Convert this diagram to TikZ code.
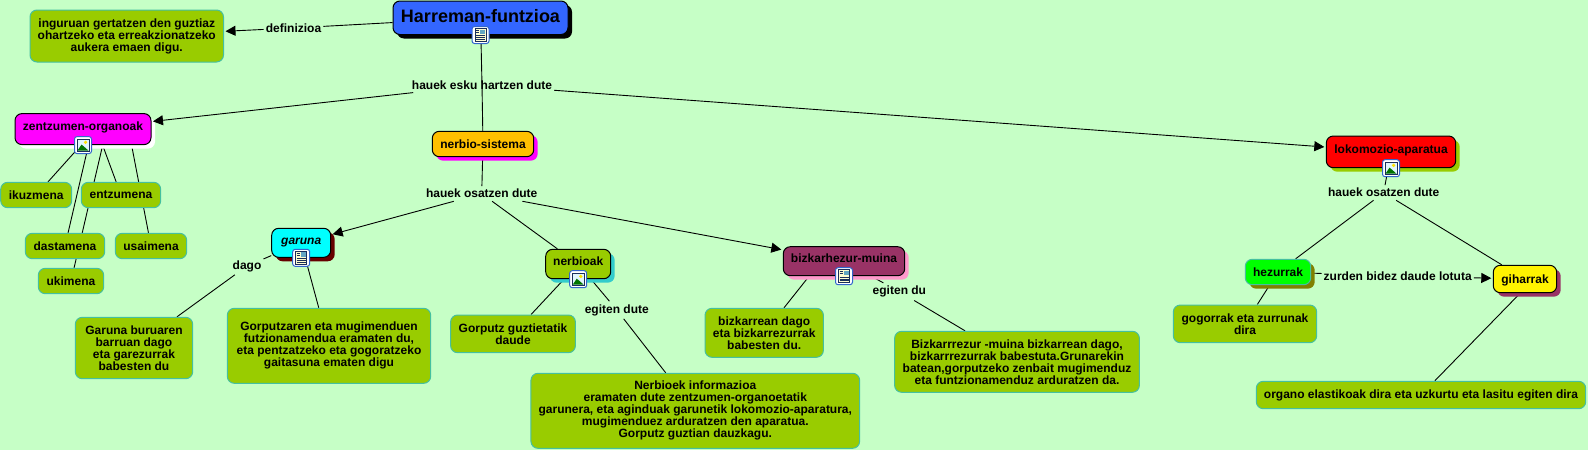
\documentclass[tikz,border=0pt]{standalone}
\usepackage{fontspec}
\setmainfont{Liberation Sans}
\usetikzlibrary{arrows.meta,backgrounds,shadows}
\definecolor{mapbg}{HTML}{C6FFC6}
\definecolor{leaffill}{HTML}{99CC00}
\definecolor{leafline}{HTML}{45C0A0}
\definecolor{rootblue}{HTML}{3366FF}
\definecolor{organpink}{HTML}{FF00FF}
\definecolor{sysorange}{HTML}{FFC000}
\definecolor{brainfill}{HTML}{00FFFF}
\definecolor{brainshade}{HTML}{660000}
\definecolor{nervshade}{HTML}{33CCCC}
\definecolor{cordfill}{HTML}{993366}
\definecolor{cordshade}{HTML}{FF99CC}
\definecolor{bonefill}{HTML}{00FF00}
\definecolor{boneshade}{HTML}{808000}
\definecolor{iconline}{HTML}{3366CC}
\definecolor{iconink}{HTML}{1A2E5A}
\tikzset{
  % ---- concepts --------------------------------------------------
  cpt/.style 2 args = {draw=black, line width=1pt, rounded corners=7pt,
                       inner sep=0pt, fill=#1, font=\fontsize{12}{12}\selectfont\bfseries,
                       text height=9pt, text depth=1pt,
                       general shadow={shadow xshift=4pt, shadow yshift=-4pt, fill=#2}},
  withicon/.style   = {text height=9pt, text depth=6pt},
  rootcpt/.style    = {cpt={rootblue}{black}, font=\fontsize{18}{18}\selectfont\bfseries,
                       text height=13pt, text depth=3.5pt},
  % ---- texts -----------------------------------------------------
  leaf/.style       = {draw=leafline, line width=1pt, rounded corners=7pt, fill=leaffill,
                       inner sep=0pt, align=center,
                       font=\fontsize{12}{12}\selectfont\bfseries},
  % ---- links -----------------------------------------------------
  lbl/.style        = {inner xsep=2pt, inner ysep=3pt,
                       font=\fontsize{12}{12}\selectfont\bfseries},
  link/.style       = {draw=black, line width=.9pt},
  arrlink/.style    = {link, shorten >=1.5pt, -{Triangle[length=10pt,width=10pt]}},
  % ---- resource icons --------------------------------------------
  iconframe/.pic    = {
    \draw[iconline, line width=1pt, fill=white, rounded corners=2.5pt] (-8.5,-8.5) rectangle (8.5,8.5);
  },
  photoicon/.pic    = {
    \pic {iconframe};
    \draw[iconink, line width=.9pt, fill=cyan!12!white] (-6,-6) rectangle (6,6);
    \fill[green!45!black] (-5.5,5.5) -- (-1.5,-.5) -- (1,1.5) -- (5.5,5.5) -- cycle;
    \fill[yellow!85!orange] (2.6,-2.8) circle (1.8);
  },
  docicon/.pic      = {
    \pic {iconframe};
    \draw[iconink, line width=.9pt, fill=yellow!18!white] (-5.5,-6.5) rectangle (5.5,6.5);
    \fill[cyan!50!gray] (-.2,-5.5) rectangle (4.5,-.8);
    \foreach \ly in {-4.5,-2.5} \draw[iconink, line width=.8pt] (-4.5,\ly) -- (-1.2,\ly);
    \foreach \ly in {0.8,2.8,4.6} \draw[iconink, line width=.8pt] (-4.5,\ly) -- (4.5,\ly);
  },
}
\begin{document}
\begin{tikzpicture}[x=1pt,y=-1pt]
  \useasboundingbox (0,0) rectangle (1588,450);
  % ---- concepts
  \node[rootcpt, minimum width=175, minimum height=33.5] (harreman) at (480.5,17.75) {Harreman-funtzioa};
  \node[cpt={organpink}{white}, withicon, minimum width=136, minimum height=31] (zentzumen) at (83,129.1) {zentzumen-organoak};
  \node[cpt={sysorange}{organpink}, minimum width=101.4, minimum height=25.4] (nerbiosis) at (483,144) {nerbio-sistema};
  \node[cpt={red}{leaffill}, withicon, minimum width=129.4, minimum height=31.7] (lokomozio) at (1391,151.85) {lokomozio-aparatua};
  \node[cpt={brainfill}{brainshade}, withicon, minimum width=59, minimum height=29, font=\fontsize{12}{12}\selectfont\bfseries\itshape] (garuna) at (301.2,242.8) {garuna};
  \node[cpt={leaffill}{nervshade}, withicon, minimum width=65, minimum height=29.4] (nerbioak) at (578.2,264) {nerbioak};
  \node[cpt={cordfill}{cordshade}, withicon, minimum width=121.4, minimum height=29] (bizkarhezur) at (844,261.2) {bizkarhezur-muina};
  \node[cpt={bonefill}{boneshade}, draw=leafline, minimum width=65.4, minimum height=25.4] (hezurrak) at (1278,272) {hezurrak};
  \node[cpt={yellow}{cordfill}, minimum width=63.4, minimum height=27.4] (giharrak) at (1525,279) {giharrak};
  % ---- leaves
  \node[leaf, minimum width=193.5, minimum height=52] (definBox) at (126.75,36) {inguruan gertatzen den guztiaz\\ohartzeko eta erreakzionatzeko\\aukera emaen digu.};
  \node[leaf, minimum width=71, minimum height=25.4] (ikuzmena) at (36.2,195) {ikuzmena};
  \node[leaf, minimum width=79.4, minimum height=25.4] (entzumena) at (121,195) {entzumena};
  \node[leaf, minimum width=79.4, minimum height=25.4] (dastamena) at (65,246) {dastamena};
  \node[leaf, minimum width=71.4, minimum height=25.4] (usaimena) at (151,246) {usaimena};
  \node[leaf, minimum width=65.4, minimum height=25.4] (ukimena) at (71,281) {ukimena};
  \node[leaf, minimum width=117.4, minimum height=61.4] (garunaBox) at (134,348) {Garuna buruaren\\barruan dago\\eta garezurrak\\babesten du};
  \node[leaf, minimum width=203.4, minimum height=75] (gorputzaren) at (329,345.8) {Gorputzaren eta mugimenduen\\futzionamendua eramaten du,\\eta pentzatzeko eta gogoratzeko\\gaitasuna ematen digu};
  \node[leaf, minimum width=124.8, minimum height=37.7] (gorputzBox) at (513,333.85) {Gorputz guztietatik\\daude};
  \node[leaf, minimum width=328.7, minimum height=75] (nerbioekBox) at (695.3,410.8) {Nerbioek informazioa\\eramaten dute zentzumen-organoetatik\\garunera, eta aginduak garunetik lokomozio-aparatura,\\mugimenduez arduratzen den aparatua.\\Gorputz guztian dauzkagu.};
  \node[leaf, minimum width=118.4, minimum height=49] (bizkarreanBox) at (764.2,332.8) {bizkarrean dago\\eta bizkarrezurrak\\babesten du.};
  \node[leaf, minimum width=244.8, minimum height=61] (bizkarrezurBox) at (1017,361.8) {Bizkarrrezur -muina bizkarrean dago,\\bizkarrrezurrak babestuta.Grunarekin\\batean,gorputzeko zenbait mugimenduz\\eta funtzionamenduz arduratzen da.};
  \node[leaf, minimum width=143.4, minimum height=37.7] (gogorrakBox) at (1245,323.85) {gogorrak eta zurrunak\\dira};
  \node[leaf, minimum width=329.4, minimum height=27.4] (organoBox) at (1421,395) {organo elastikoak dira eta uzkurtu eta lasitu egiten dira};
  % ---- link labels
  \node[lbl] (lblDefin) at (293.5,28) {definizioa};
  \node[lbl] (lblEsku) at (482,85) {hauek esku hartzen dute};
  \node[lbl] (lblOsatzen) at (481.7,193.7) {hauek osatzen dute};
  \node[lbl] (lblDago) at (247,266) {dago};
  \node[lbl] (lblEgitenN) at (616.8,310) {egiten dute};
  \node[lbl] (lblEgitenB) at (899.4,291.7) {egiten du};
  \node[lbl] (lblOsatzenL) at (1383.7,192.7) {hauek osatzen dute};
  \node[lbl] (lblZurden) at (1397.7,276) {zurden bidez daude lotuta};
  % ---- icons
  \pic at (harreman.south) {docicon};
  \pic at (zentzumen.south) {photoicon};
  \pic at (lokomozio.south) {photoicon};
  \pic at (garuna.south) {docicon};
  \pic at (nerbioak.south) {photoicon};
  \pic at (bizkarhezur.south) {docicon};
  % ---- plain links go under the boxes
  \begin{scope}[on background layer]
    \fill[mapbg] (0,0) rectangle (1588,450);
    \draw[link] (harreman) -- (lblDefin);
    \draw[link] (harreman) -- (lblEsku.center);
    \draw[link] (lblEsku.center) -- (nerbiosis);
    \draw[link] ([xshift=-2]zentzumen.south) -- (ikuzmena);
    \draw[link] ([xshift=5.5]zentzumen.south) -- (dastamena);
    \draw[link] ([xshift=19.7]zentzumen.south) -- (ukimena);
    \draw[link] ([xshift=13.7]zentzumen.center) -- (entzumena);
    \draw[link] ([xshift=45.5]zentzumen.center) -- (usaimena);
    \draw[link] (nerbiosis) -- (lblOsatzen);
    \draw[link] (lblOsatzen) -- (nerbioak);
    \draw[link] (garuna) -- (lblDago);
    \draw[link] (lblDago) -- (garunaBox);
    \draw[link] (garuna) -- (gorputzaren);
    \draw[link] (nerbioak) -- (gorputzBox);
    \draw[link] (nerbioak) -- (lblEgitenN);
    \draw[link] (lblEgitenN) -- (nerbioekBox);
    \draw[link] ([xshift=-23]bizkarhezur.center) -- (bizkarreanBox);
    \draw[link] (bizkarhezur) -- (lblEgitenB);
    \draw[link] (lblEgitenB) -- (bizkarrezurBox);
    \draw[link] (lokomozio) -- (lblOsatzenL);
    \draw[link] (lblOsatzenL) -- (hezurrak);
    \draw[link] (lblOsatzenL) -- (giharrak);
    \draw[link] (hezurrak) -- (lblZurden);
    \draw[link] (hezurrak) -- (gogorrakBox);
    \draw[link] ([xshift=9]giharrak.center) -- (organoBox);
  \end{scope}
  % ---- arrows
  \draw[arrlink] (lblDefin) -- (definBox);
  \draw[arrlink] (lblEsku) -- (zentzumen);
  \draw[arrlink] (lblEsku) -- (lokomozio);
  \draw[arrlink] (lblOsatzen) -- (garuna);
  \draw[arrlink] (lblOsatzen) -- (bizkarhezur);
  \draw[arrlink] (lblZurden) -- (giharrak);
\end{tikzpicture}
\end{document}
